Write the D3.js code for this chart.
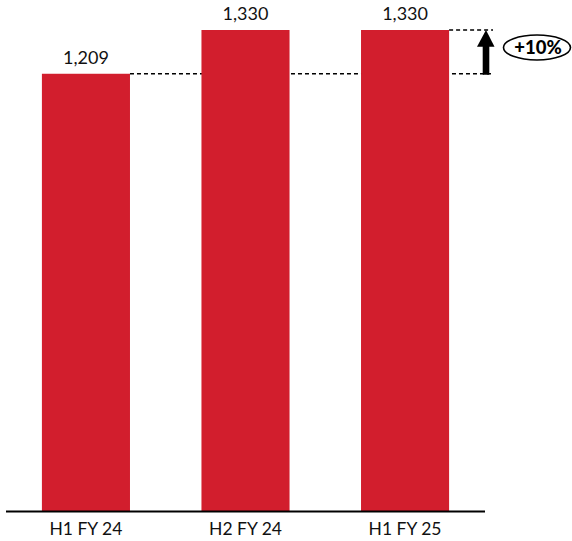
<!DOCTYPE html>
<html><head><meta charset="utf-8">
<script src="https://cdn.jsdelivr.net/npm/d3@7"></script>
<style>html,body{margin:0;padding:0;background:#fff;}svg{display:block;}</style>
</head><body>
<svg id="chart" width="572" height="541"></svg>
<script>
const categories = ["H1 FY 24", "H2 FY 24", "H1 FY 25"];
const values = [1209, 1330, 1330];
const valueLabels = ["1,209", "1,330", "1,330"];
const changeLabel = "+10%";

const svg = d3.select("#chart");
const font = "Lato, 'Open Sans', sans-serif";
const red = "#D21E2D";

const x = d3.scaleBand().domain(categories).range([6, 485]).paddingInner(0.448).paddingOuter(0.225);
const y = d3.scaleLinear().domain([0, 1330]).range([511, 30]);

const yLow = y(values[0]), yHigh = y(values[2]);
const lineEnd = 493;

// dashed reference lines (behind bars)
svg.append("line").attr("x1", x(categories[0]) + x.bandwidth()).attr("x2", lineEnd)
  .attr("y1", yLow).attr("y2", yLow)
  .attr("stroke", "#000").attr("stroke-width", 1.3).attr("stroke-dasharray", "4,3");
svg.append("line").attr("x1", x(categories[2]) + x.bandwidth()).attr("x2", lineEnd)
  .attr("y1", yHigh).attr("y2", yHigh)
  .attr("stroke", "#000").attr("stroke-width", 1.3).attr("stroke-dasharray", "4,3");

// bars
svg.selectAll("rect.bar").data(values).enter().append("rect")
  .attr("class", "bar")
  .attr("x", (d, i) => x(categories[i]))
  .attr("y", d => y(d))
  .attr("width", x.bandwidth())
  .attr("height", d => y(0) - y(d))
  .attr("fill", red);

// value labels
svg.selectAll("text.val").data(values).enter().append("text")
  .attr("class", "val")
  .attr("x", (d, i) => x(categories[i]) + x.bandwidth() / 2)
  .attr("y", d => y(d) - 10)
  .attr("text-anchor", "middle")
  .attr("font-family", font).attr("font-size", 18).attr("fill", "#111")
  .text((d, i) => valueLabels[i]);

// x axis line
svg.append("line").attr("x1", 6).attr("x2", 485).attr("y1", y(0) + 0.5).attr("y2", y(0) + 0.5)
  .attr("stroke", "#000").attr("stroke-width", 2);

// category labels
const xAxis = d3.axisBottom(x).tickSize(0).tickPadding(0);
const gx = svg.append("g").attr("transform", `translate(0,${y(0)})`).call(xAxis);
gx.select(".domain").remove();
gx.selectAll("text").attr("y", 24).attr("dy", 0)
  .attr("font-family", font).attr("font-size", 17.5).attr("fill", "#111");

// arrow
const ax = 486;
svg.append("rect").attr("x", ax - 3.3).attr("y", yHigh + 14).attr("width", 6.6).attr("height", yLow - yHigh - 13)
  .attr("fill", "#000");
svg.append("path")
  .attr("d", `M${ax - 9},${yHigh + 16.7} L${ax},${yHigh} L${ax + 8.5},${yHigh + 16.7} Z`)
  .attr("fill", "#000");

// ellipse with change label
const ex = 537, ey = 47.5;
svg.append("ellipse").attr("cx", ex).attr("cy", ey).attr("rx", 33.5).attr("ry", 12.5)
  .attr("fill", "#fff").attr("stroke", "#000").attr("stroke-width", 1.6);
svg.append("text").attr("x", ex + 1).attr("y", ey + 6.8)
  .attr("text-anchor", "middle").attr("font-family", font).attr("font-weight", "900")
  .attr("font-size", 18.5).attr("fill", "#000").text(changeLabel);
</script>
</body></html>
